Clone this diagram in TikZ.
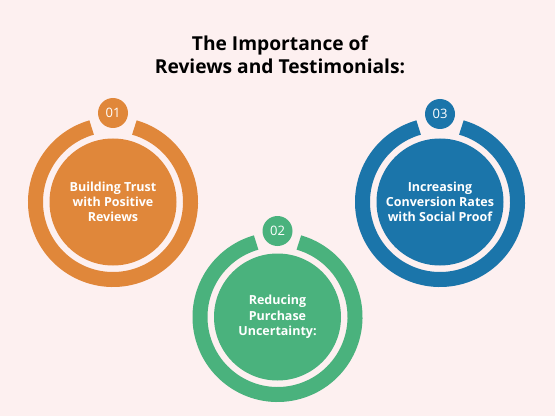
\documentclass[tikz,border=0pt]{standalone}
\usepackage{fontspec}
\setmainfont{Open Sans}
\usetikzlibrary{calc}
\definecolor{bgc}{RGB}{253,240,240}
\definecolor{orangec}{RGB}{224,135,58}
\definecolor{greenc}{RGB}{74,178,125}
\definecolor{bluec}{RGB}{27,117,170}
\tikzset{
  disk/.style={circle, fill=#1, minimum size=127pt, inner sep=0pt, text=white,
    align=center, font=\fontsize{12.5}{15.3}\selectfont\bfseries},
  badge/.style={circle, fill=#1, minimum size=30pt, inner sep=0pt, text=white,
    font=\fontsize{13}{15}\selectfont},
  ring/.style={draw=#1, line width=15pt},
  titlec/.style={align=center, font=\fontsize{19.2}{23.5}\selectfont\bfseries, text=black}
}
\begin{document}
\begin{tikzpicture}[x=1pt,y=1pt]
\fill[bgc] (0,0) rectangle (555,416);
\useasboundingbox (0,0) rectangle (555,416);
\node[titlec] (title) at (280,361) {The Importance of\\Reviews and Testimonials:};
% orange
\coordinate (c1) at (113,214);
\draw[ring=orangec] ($(c1)+(106:77.5)$) arc[start angle=106, end angle=434, radius=77.5];
\node[disk=orangec] (d1) at (c1) {Building Trust\\with Positive\\Reviews};
\node[badge=orangec] (b1) at (113,303) {01};
% green
\coordinate (c2) at (277.5,99);
\draw[ring=greenc] ($(c2)+(106:77.5)$) arc[start angle=106, end angle=434, radius=77.5];
\node[disk=greenc] (d2) at (c2) {Reducing\\Purchase\\Uncertainty:};
\node[badge=greenc] (b2) at (277.5,185) {02};
% blue
\coordinate (c3) at (440,214);
\draw[ring=bluec] ($(c3)+(106:77.5)$) arc[start angle=106, end angle=434, radius=77.5];
\node[disk=bluec] (d3) at (c3) {Increasing\\Conversion Rates\\with Social Proof};
\node[badge=bluec] (b3) at (440,302) {03};
\end{tikzpicture}
\end{document}
